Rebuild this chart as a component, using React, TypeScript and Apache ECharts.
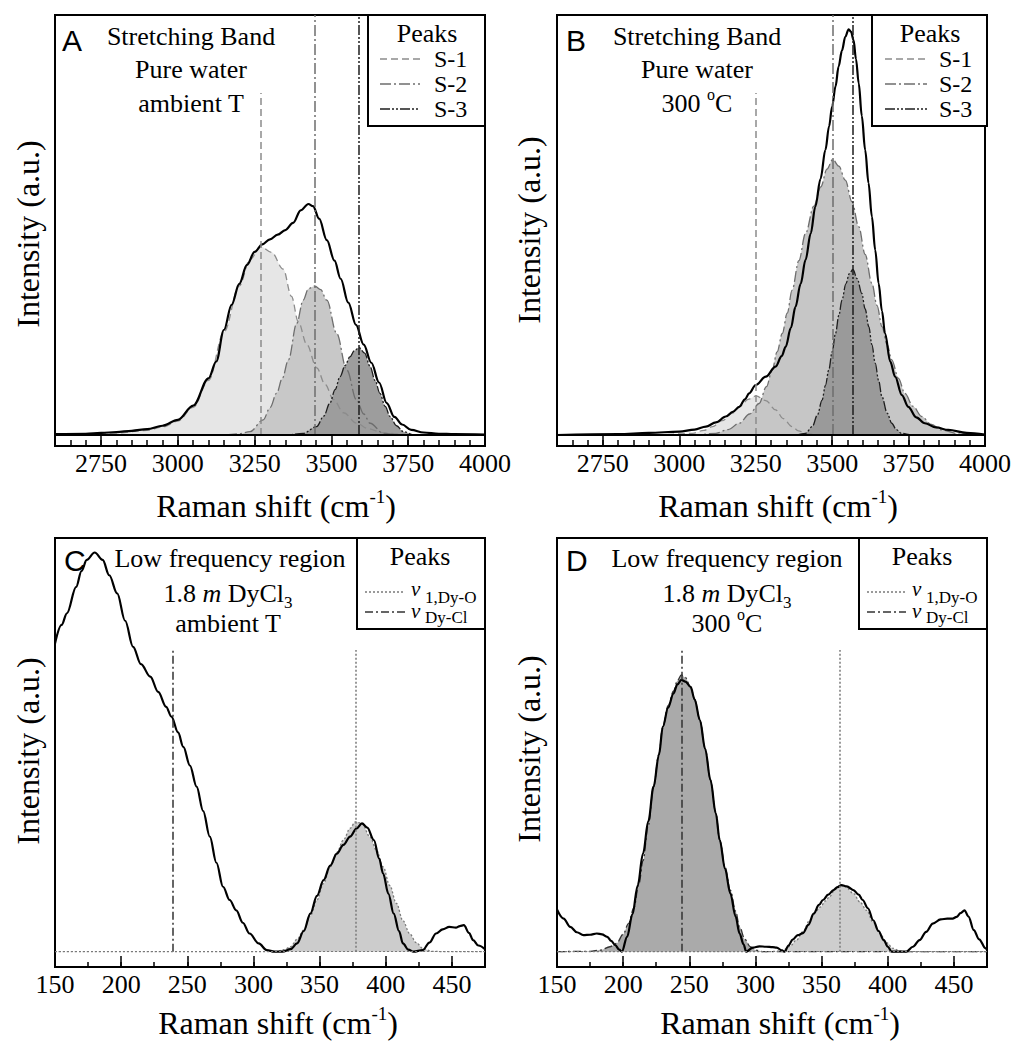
import React, { useEffect, useRef } from 'react';
import * as echarts from 'echarts';

const SERIF = "'Liberation Serif', 'Times New Roman', serif";
const SANS = "'Liberation Sans', Arial, sans-serif";

// ---------- axis ticks ----------
const stretchRange = [2600, 4000];
const stretchLabels = [2750, 3000, 3250, 3500, 3750, 4000];
const stretchMajorTicks = [2750, 3000, 3250, 3500, 3750];
const stretchMinorStep = 50;
const lowRange = [150, 475];
const lowLabels = [150, 200, 250, 300, 350, 400, 450];
const lowMajorTicks = [200, 250, 300, 350, 400, 450];
const lowMinorStep = 25;

// ---------- Panel A: pure water, ambient T ----------
const ambientWaterTotal = [[2600,0.2],[2700,0.3],[2750,0.5],[2800,0.7],[2850,1.0],[2900,1.4],[2950,2.2],[3000,3.6],[3050,7.0],[3100,13.5],[3125,17.5],[3150,25],[3175,31],[3200,36],[3225,40.5],[3250,43.6],[3275,45.4],[3300,46.6],[3325,47.7],[3350,48.8],[3375,50.5],[3400,53.5],[3425,55],[3440,54.5],[3460,51.5],[3485,46.4],[3510,41.5],[3530,37.2],[3555,31.5],[3580,26.2],[3605,21.5],[3630,17.2],[3655,12.5],[3680,7.6],[3705,4.3],[3730,2.5],[3760,1.2],[3800,0.6],[3850,0.3],[3900,0.2],[4000,0.1]];
const ambientWaterS1 = [[2600,0],[2700,0.2],[2800,0.5],[2900,1.1],[2950,1.9],[3000,3.3],[3050,6.6],[3100,13],[3150,24.5],[3200,35.5],[3235,41.8],[3270,44.8],[3305,43.5],[3343,39.5],[3370,33],[3392,27],[3420,21.5],[3452,16],[3480,12],[3506,8.5],[3540,5.3],[3582,2.8],[3620,1.5],[3669,0.5],[3750,0.1],[4000,0]];
const ambientWaterS2 = [[2600,0],[3150,0],[3200,0.3],[3235,0.8],[3278,3.6],[3300,6.5],[3322,10],[3340,13.5],[3360,17.9],[3387,26.6],[3408,32.1],[3425,34.8],[3445,35.5],[3465,34.6],[3485,32.1],[3517,24.2],[3550,15.5],[3582,8.3],[3605,5],[3626,2.8],[3669,0.4],[3720,0],[4000,0]];
const ambientWaterS3 = [[2600,0],[3350,0],[3408,0.4],[3452,2.0],[3475,4.5],[3495,7.6],[3512,10.8],[3528,13.9],[3545,16.6],[3560,18.6],[3575,20.1],[3590,20.8],[3608,19.5],[3626,16.3],[3642,13],[3658,9.9],[3675,6.8],[3691,4.4],[3712,2.2],[3734,0.8],[3770,0],[4000,0]];
const ambientWaterPeakPos = [3270, 3445, 3590];
const ambientWaterPeakTop = [81.4, 100, 100];

// ---------- Panel B: pure water, 300 C ----------
const hotWaterTotal = [[2600,0],[2800,0.2],[2900,0.5],[3000,0.8],[3050,1.3],[3087,2.0],[3120,3.0],[3152,4.4],[3175,5.5],[3196,6.7],[3215,8.5],[3228,9.9],[3250,11.9],[3283,13.9],[3315,16.3],[3335,18.8],[3348,21],[3365,25.5],[3380,30.5],[3397,36],[3413,41.7],[3430,48],[3445,54.4],[3462,61],[3478,67.9],[3490,73.5],[3500,78.2],[3511,83],[3521,87.7],[3532,91.5],[3543,94.8],[3554,96.6],[3562,96],[3570,94],[3578,89.5],[3587,83.7],[3597,76],[3608,67.9],[3619,60],[3630,52],[3641,44],[3652,36.1],[3663,29.5],[3673,24.2],[3690,17.5],[3706,13.9],[3728,9.5],[3749,6.7],[3775,4.2],[3803,2.8],[3840,1.8],[3880,1.2],[3940,0.5],[4000,0.1]];
const hotWaterS1 = [[2600,0],[2950,0.1],[3044,0.4],[3080,1.1],[3109,2.0],[3140,3.4],[3174,5.2],[3200,6.9],[3225,8.5],[3251,9.3],[3283,8.2],[3315,6.0],[3340,3.9],[3369,2.0],[3390,1.0],[3413,0.4],[3460,0],[4000,0]];
const hotWaterS2 = [[2600,0],[3050,0],[3120,0.4],[3160,1.3],[3196,2.8],[3230,5],[3261,7.5],[3285,11.5],[3304,15.5],[3320,19.8],[3337,24.2],[3353,29],[3369,34.5],[3391,41.5],[3413,48],[3440,54.5],[3463,59.1],[3483,63.3],[3502,65.6],[3522,64],[3543,60.7],[3565,55.5],[3587,49.6],[3608,43],[3630,36.1],[3647,30.8],[3663,25.8],[3680,21.5],[3695,17.9],[3717,13.5],[3738,9.9],[3765,6.8],[3793,4.4],[3825,2.5],[3858,1.2],[3920,0.2],[4000,0]];
const hotWaterS3 = [[2600,0],[3380,0],[3413,0.4],[3435,2.0],[3452,4.8],[3467,8.3],[3478,11.8],[3489,15.5],[3500,19.8],[3511,24.2],[3522,28.5],[3532,32.1],[3545,36],[3556,38.4],[3568,39.4],[3582,37.2],[3597,33.7],[3608,30],[3620,25.8],[3630,21.5],[3641,17.1],[3652,13],[3663,9.1],[3680,5.2],[3695,2.8],[3710,1.3],[3727,0.4],[3760,0],[4000,0]];
const hotWaterPeakPos = [3251, 3502, 3568];
const hotWaterPeakTop = [81.4, 100, 100];

// ---------- Panel C: 1.8 m DyCl3, ambient T ----------
const ambientDyTotal = [[150,74.5],[155,79],[159,81.8],[166,88.2],[170,92],[174,94.7],[180,96.5],[186,94.7],[191,91],[197,86.6],[203,80],[209,73.7],[215,69.5],[222,66.5],[228,62.8],[234,59.2],[238,56.8],[243,53],[247,49.5],[252,45],[257,39.9],[262,34],[267,27.8],[272,21.5],[277,15.7],[282,12.5],[287,10],[292,7],[297,4.4],[304,2],[310,0.4],[316,0],[322,0],[328,0.6],[333,2.0],[338,5],[343,9.2],[348,13.5],[353,17.3],[358,20.8],[363,23.7],[368,25.8],[373,27.8],[378,29.8],[382,31],[386,30],[391,27],[395,22.5],[398,18.9],[402,14],[406,9.2],[410,5],[413,2],[417,0.5],[421,0],[428,0.4],[433,2.2],[438,4.4],[443,5.4],[448,6],[453,5.8],[456,6.2],[459,6.4],[463,4.5],[466,2.8],[470,1.5],[475,0.6]];
const ambientDyV1 = [[150,0],[317,0],[323,0.5],[328,1.2],[333,3],[338,5.2],[343,8.7],[348,12.5],[353,16.5],[358,20.5],[363,24],[368,27],[373,29.8],[377,31.4],[382,31],[388,27.8],[393,24.5],[398,20.5],[403,16],[408,11.7],[413,7.5],[418,4.4],[423,2.2],[428,0.8],[435,0.1],[445,0],[475,0]];
const ambientDyPeakPos = [377, 239];
const ambientDyPeakTop = [72.9, 72.9];

// ---------- Panel D: 1.8 m DyCl3, 300 C ----------
const hotDyTotal = [[150,10.2],[155,8],[160,6],[165,4.7],[170,4.0],[175,4.1],[180,4.4],[184,4.2],[188,3.6],[191,2.6],[194,1.6],[197,0.5],[199,0],[203,3.6],[207,9],[211,16],[215,23.7],[219,31.5],[223,39.9],[227,47.5],[230,54.4],[234,59],[238,62.4],[241,64.6],[244,65.7],[247,65.3],[251,64],[254,61],[258,56],[262,49],[266,41.5],[270,33.5],[273,27],[277,20],[281,14.1],[285,8.5],[288,4.4],[291,1.8],[293,0],[298,1.0],[303,1.3],[308,1.2],[313,1.1],[316,1.0],[320,0.3],[322,0],[325,1.5],[328,2.9],[332,4],[336,4.5],[340,6.5],[344,9.2],[348,11.3],[351,12.5],[355,13.8],[359,14.9],[362,15.6],[365,16.1],[369,15.8],[374,14.9],[378,13.8],[381,12.5],[385,10.5],[389,7.6],[393,5],[397,2.8],[400,1.2],[403,0],[410,0],[414,0],[419,1.2],[424,2.8],[429,4.8],[434,6.8],[440,7.8],[445,8.0],[449,8.0],[452,8.4],[455,9.3],[458,10],[461,8.5],[465,5.2],[469,3],[474,0.8],[475,0.5]];
const hotDyCl = [[150,0],[175,0.1],[183,0.4],[190,1.2],[195,2.0],[200,4.2],[204,6.8],[208,10.5],[212,16.5],[215,22],[219,30.5],[223,39.9],[227,47.8],[230,54.4],[234,59.5],[238,63],[241,65.5],[244,66.9],[247,66.3],[251,64],[254,61],[258,56],[262,49],[266,41.5],[270,33.5],[273,27],[277,20.5],[281,14.9],[285,9.8],[288,6.0],[292,3.0],[296,1.2],[300,0.4],[306,0],[475,0]];
const hotDyV1 = [[150,0],[310,0],[316,0.1],[321,0.4],[326,1.3],[331,2.8],[336,4.9],[341,7.6],[345,9.5],[349,10.8],[353,12.3],[356,13.3],[360,15],[364,16.1],[368,15.7],[374,14.1],[379,12],[384,10],[389,7.1],[394,4.4],[399,2.2],[404,0.8],[409,0.2],[414,0],[475,0]];
const hotDyPeakPos = [364, 244];
const hotDyPeakTop = [72.9, 73.4];

// ---------- styles ----------
const S1 = { stroke: '#8c8c8c', dash: [7, 4] };
const S2 = { stroke: '#6e6e6e', dash: [11, 3, 2, 3] };
const S3 = { stroke: '#1e1e1e', dash: [10, 2, 2, 2, 2, 2] };
const V1 = { stroke: '#7a7a7a', dash: [2, 2] };
const DYCL = { stroke: '#333333', dash: [8, 3, 2, 3] };

const SMOOTH = 0.35;

type Peak = { data: number[][]; fill: string | null; stroke: string; dash: number[]; pos: number; top: number };

function buildPanel(i: number, xr: number[], yr: number[], labels: number[], major: number[], minorStep: number, majorLen: number, minorLen: number, total: number[][], peaks: Peak[], baseline: any) {
  const xAxes = [
    {
      type: 'value', gridIndex: i, min: xr[0], max: xr[1], position: 'bottom',
      axisLine: { show: true, onZero: false, lineStyle: { color: '#000', width: 2 } },
      axisTick: { show: true, inside: true, length: majorLen, lineStyle: { color: '#000', width: 1.5 }, customValues: major },
      axisLabel: { show: true, customValues: labels, formatter: (v: number) => String(v), color: '#000', fontSize: 26, fontFamily: SERIF, margin: 4 },
      splitLine: { show: false },
    },
    {
      type: 'value', gridIndex: i, min: xr[0], max: xr[1], interval: minorStep, position: 'bottom',
      axisLine: { show: true, onZero: false, lineStyle: { color: '#000', width: 2 } },
      axisTick: { show: true, inside: true, length: minorLen, lineStyle: { color: '#000', width: 1.5 } },
      axisLabel: { show: false },
      splitLine: { show: false },
    },
  ];
  const yAxis = { type: 'value', gridIndex: i, min: yr[0], max: yr[1], show: false };
  const series: any[] = [];
  peaks.forEach((p) => {
    if (p.fill) {
      series.push({
        type: 'line', xAxisIndex: 2 * i, yAxisIndex: i, data: p.data, smooth: SMOOTH, smoothMonotone: 'x',
        symbol: 'none', silent: true, z: 2,
        lineStyle: { width: 0, opacity: 0 }, areaStyle: { color: p.fill, opacity: 1, origin: 0 },
      });
    }
  });
  peaks.forEach((p) => {
    series.push({
      type: 'line', xAxisIndex: 2 * i, yAxisIndex: i, data: p.fill ? p.data : [], smooth: SMOOTH, smoothMonotone: 'x',
      symbol: 'none', silent: true, z: 3,
      lineStyle: { color: p.stroke, width: 1.3, type: p.dash },
      markLine: {
        silent: true, symbol: ['none', 'none'], label: { show: false }, animation: false,
        lineStyle: { color: p.stroke, width: 1.5, type: p.dash },
        data: [[{ coord: [p.pos, 0] }, { coord: [p.pos, p.top] }]],
      },
    });
  });
  series.push({
    type: 'line', xAxisIndex: 2 * i, yAxisIndex: i, data: total, smooth: SMOOTH, smoothMonotone: 'x',
    symbol: 'none', silent: true, z: 4,
    lineStyle: { color: '#000', width: 2.2 },
    markLine: {
      silent: true, symbol: ['none', 'none'], label: { show: false }, animation: false,
      lineStyle: baseline, data: [{ yAxis: 0 }],
    },
  });
  // keep the minor-tick axis alive by binding an empty series to it
  series.push({ type: 'line', xAxisIndex: 2 * i + 1, yAxisIndex: i, data: [], silent: true, symbol: 'none' });
  return { xAxes, yAxis, series };
}

function txt(x: number, y: number, text: string, size: number, extra: any = {}) {
  return {
    type: 'text', x, y, silent: true, z: 100,
    style: {
      text, fontSize: size, fontFamily: SERIF, fill: '#000',
      align: 'center', verticalAlign: 'middle', textAlign: 'center', textVerticalAlign: 'middle',
      ...extra,
    },
  };
}

function legendBox(x: number, y: number, w: number, h: number) {
  return { type: 'rect', shape: { x, y, width: w, height: h }, style: { fill: '#fff', stroke: '#000', lineWidth: 2 }, z: 90, silent: true };
}
function legendLine(x1: number, x2: number, y: number, st: { stroke: string; dash: number[] }) {
  return { type: 'line', shape: { x1, y1: y, x2, y2: y }, style: { stroke: st.stroke, lineWidth: 1.5, lineDash: st.dash }, z: 95, silent: true };
}

const supRich = (size: number, supSize: number, pad: number) => ({
  a: { fontSize: size, fontFamily: SERIF, fill: '#000' },
  s: { fontSize: supSize, fontFamily: SERIF, fill: '#000', padding: [0, 0, pad, 0] },
});

function buildOption() {
  const grids = [
    { left: 55, top: 15, width: 430, height: 431 },
    { left: 557, top: 15, width: 430, height: 431 },
    { left: 55, top: 538, width: 430, height: 429 },
    { left: 557, top: 538, width: 430, height: 429 },
  ].map((g) => ({ ...g, show: true, borderColor: '#000', borderWidth: 2, backgroundColor: 'transparent', z: 0 }));

  const solidBase = { color: '#000', width: 2, type: 'solid' };
  const dotBase = { color: '#7a7a7a', width: 1.2, type: [2, 2] };
  const stretchY = [-2.62, 100];
  const lowY = [-3.7, 100];

  const pA = buildPanel(0, stretchRange, stretchY, stretchLabels, stretchMajorTicks, stretchMinorStep, 11, 6, ambientWaterTotal, [
    { data: ambientWaterS1, fill: '#e6e6e6', ...S1, pos: ambientWaterPeakPos[0], top: ambientWaterPeakTop[0] },
    { data: ambientWaterS2, fill: '#c8c8c8', ...S2, pos: ambientWaterPeakPos[1], top: ambientWaterPeakTop[1] },
    { data: ambientWaterS3, fill: '#9d9d9d', ...S3, pos: ambientWaterPeakPos[2], top: ambientWaterPeakTop[2] },
  ], solidBase);
  const pB = buildPanel(1, stretchRange, stretchY, stretchLabels, stretchMajorTicks, stretchMinorStep, 11, 6, hotWaterTotal, [
    { data: hotWaterS1, fill: '#e6e6e6', ...S1, pos: hotWaterPeakPos[0], top: hotWaterPeakTop[0] },
    { data: hotWaterS2, fill: '#c6c6c6', ...S2, pos: hotWaterPeakPos[1], top: hotWaterPeakTop[1] },
    { data: hotWaterS3, fill: '#9a9a9a', ...S3, pos: hotWaterPeakPos[2], top: hotWaterPeakTop[2] },
  ], solidBase);
  const pC = buildPanel(2, lowRange, lowY, lowLabels, lowMajorTicks, lowMinorStep, 11, 5, ambientDyTotal, [
    { data: ambientDyV1, fill: '#cccccc', ...V1, pos: ambientDyPeakPos[0], top: ambientDyPeakTop[0] },
    { data: [], fill: null, ...DYCL, pos: ambientDyPeakPos[1], top: ambientDyPeakTop[1] },
  ], dotBase);
  const pD = buildPanel(3, lowRange, lowY, lowLabels, lowMajorTicks, lowMinorStep, 11, 5, hotDyTotal, [
    { data: hotDyCl, fill: '#aaaaaa', ...DYCL, pos: hotDyPeakPos[1], top: hotDyPeakTop[1] },
    { data: hotDyV1, fill: '#cecece', ...V1, pos: hotDyPeakPos[0], top: hotDyPeakTop[0] },
  ], dotBase);

  const panels = [pA, pB, pC, pD];

  const ramanTitle = '{a|Raman shift (cm}{s|-1}{a|)}';
  const subRich = {
    t: { fontSize: 26, fontFamily: SERIF, fill: '#000' },
    i: { fontSize: 26, fontFamily: SERIF, fontStyle: 'italic', fill: '#000' },
    s: { fontSize: 17, fontFamily: SERIF, fill: '#000', padding: [18, 0, 0, 0] },
    p: { fontSize: 16, fontFamily: SERIF, fill: '#000', padding: [0, 0, 18, 0] },
  };

  const graphic: any[] = [];
  // axis titles
  [[276, 506], [778, 506], [278, 1023], [780, 1023]].forEach(([x, y]) => {
    graphic.push(txt(x, y, ramanTitle, 32, { rich: supRich(32, 19, 20) }));
  });
  [[28, 234], [529, 230], [28, 751], [529, 749]].forEach(([x, y]) => {
    const t: any = txt(x, y, 'Intensity (a.u.)', 32);
    t.rotation = Math.PI / 2;
    graphic.push(t);
  });
  // panel letters
  [['A', 62, 40], ['B', 566, 40], ['C', 64, 560], ['D', 566, 560]].forEach(([l, x, y]) => {
    graphic.push({ type: 'text', x, y, silent: true, z: 100, style: { text: l, fontSize: 30, fontFamily: SANS, fill: '#000', align: 'left', verticalAlign: 'middle', textAlign: 'left', textVerticalAlign: 'middle' } });
  });
  // annotations
  graphic.push(txt(191, 36, 'Stretching Band', 26));
  graphic.push(txt(191, 69, 'Pure water', 26));
  graphic.push(txt(191, 103, 'ambient T', 26));
  graphic.push(txt(697, 36, 'Stretching Band', 26));
  graphic.push(txt(697, 69, 'Pure water', 26));
  graphic.push(txt(697, 103, '{t|300 }{p|o}{t|C}', 26, { rich: subRich }));
  graphic.push(txt(230, 558, 'Low frequency region', 26));
  graphic.push(txt(228, 593, '{t|1.8 }{i|m}{t| DyCl}{s|3}', 26, { rich: subRich }));
  graphic.push(txt(228, 623, 'ambient T', 26));
  graphic.push(txt(727, 558, 'Low frequency region', 26));
  graphic.push(txt(727, 593, '{t|1.8 }{i|m}{t| DyCl}{s|3}', 26, { rich: subRich }));
  graphic.push(txt(727, 623, '{t|300 }{p|o}{t|C}', 26, { rich: subRich }));

  // legends A & B
  [[368, 427, 380, 420, 434], [872, 930, 885, 927, 939]].forEach(([bx, cx, l1, l2, tx]) => {
    graphic.push(legendBox(bx, 15, bx < 500 ? 485 - bx : 987 - bx, 111));
    graphic.push(txt(cx, 33, 'Peaks', 26, { lineHeight: 22 }));
    const rows: [number, string, any][] = [[59, 'S-1', S1], [84, 'S-2', S2], [109, 'S-3', S3]];
    rows.forEach(([y, label, st]) => {
      graphic.push(legendLine(l1, l2, y, st));
      graphic.push(txt(tx, y, label, 24, { align: 'left', textAlign: 'left', lineHeight: 20 }));
    });
  });
  // legends C & D
  [[357, 420, 365, 405, 411], [859, 922, 867, 906, 912]].forEach(([bx, cx, l1, l2, tx]) => {
    graphic.push(legendBox(bx, 538, 128, 91));
    graphic.push(txt(cx, 556, 'Peaks', 26, { lineHeight: 22 }));
    graphic.push(legendLine(l1, l2, 592, V1));
    graphic.push(legendLine(l1, l2, 612, DYCL));
    graphic.push(txt(tx, 589, 'v', 21, { align: 'left', textAlign: 'left', fontStyle: 'italic', lineHeight: 18 }));
    graphic.push(txt(tx, 611, 'v', 21, { align: 'left', textAlign: 'left', fontStyle: 'italic', lineHeight: 18 }));
    graphic.push(txt(tx + 14, 607, '1,Dy-O\nDy-Cl', 17, { align: 'left', textAlign: 'left', lineHeight: 20 }));
  });

  return {
    animation: false,
    backgroundColor: '#ffffff',
    grid: grids,
    xAxis: panels.flatMap((p) => p.xAxes),
    yAxis: panels.map((p) => p.yAxis),
    series: panels.flatMap((p) => p.series),
    graphic,
  };
}

export default function App() {
  const ref = useRef<HTMLDivElement>(null);
  useEffect(() => {
    if (!ref.current) return;
    const chart = echarts.init(ref.current, null, { renderer: 'svg' });
    chart.setOption(buildOption() as any);
    return () => chart.dispose();
  }, []);
  return <div ref={ref} style={{ position: 'absolute', left: 0, top: 0, width: 1014, height: 1041, background: '#fff' }} />;
}
